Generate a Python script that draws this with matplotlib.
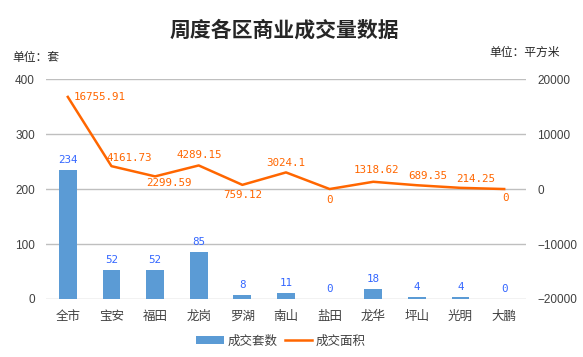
import matplotlib.pyplot as plt
import numpy as np

plt.rcParams['font.family'] = ['Noto Sans CJK SC', 'DejaVu Sans']

districts = ["全市", "宝安", "福田", "龙岗", "罗湖", "南山", "盐田", "龙华", "坪山", "光明", "大鹏"]
units = [234, 52, 52, 85, 8, 11, 0, 18, 4, 4, 0]
area = [16755.91, 4161.73, 2299.59, 4289.15, 759.12, 3024.1, 0, 1318.62, 689.35, 214.25, 0]
area_labels = ["16755.91", "4161.73", "2299.59", "4289.15", "759.12", "3024.1", "0",
               "1318.62", "689.35", "214.25", "0"]
# where each area label sits relative to its point, in pixels
label_pos = [(32, 0), (18, 8), (14, -7), (1, 10), (0, -10), (0, 9), (0, -11),
             (3, 12), (11, 9), (15, 9), (1, -9)]

bar_color = "#5b9bd5"
line_color = "#ff6600"
text_color = "#404040"
mono = ["DejaVu Sans Mono"]

fig = plt.figure(figsize=(5.83, 3.57), dpi=100)
ax = fig.add_axes([0.0789, 0.1625, 0.8233, 0.616])
ax2 = ax.twinx()

x = np.arange(len(districts))
ax.bar(x, units, width=0.41, color=bar_color, label="成交套数", zorder=2)
for xi, v in zip(x, units):
    ax.annotate(str(v), (xi, v), xytext=(0, 5), textcoords="offset pixels",
                ha="center", va="bottom", color="#3366ff", fontsize=7.8, family=mono)

ax2.plot(x, area, color=line_color, linewidth=1.8, label="成交面积", zorder=3)
for xi, v, s, (dx, dy) in zip(x, area, area_labels, label_pos):
    ax2.annotate(s, (xi, v), xytext=(dx, dy), textcoords="offset pixels",
                 ha="center", va="center", color=line_color, fontsize=7.8, family=mono)

ax.set_ylim(0, 400)
ax.set_yticks([0, 100, 200, 300, 400])
ax2.set_ylim(-20000, 20000)
ax2.set_yticks([-20000, -10000, 0, 10000, 20000])
ax.set_xlim(-0.5, len(districts) - 0.5)
ax.set_xticks(x)
ax.set_xticklabels(districts)

ax.grid(axis="y", color="#bfbfbf", linewidth=1, zorder=0)
ax.set_axisbelow(True)
for a in (ax, ax2):
    for sp in a.spines.values():
        sp.set_visible(False)
    a.tick_params(length=0, colors=text_color, labelsize=8.5, pad=8)
    for lab in a.get_yticklabels():
        lab.set_family(["Liberation Sans"])
ax.tick_params(axis="x", labelsize=9, pad=8)

fig.text(0.487, 0.916, "周度各区商业成交量数据", ha="center", va="center",
         fontsize=15, fontweight="bold", color="#262626")
fig.text(0.022, 0.838, "单位：套", ha="left", va="center", fontsize=8.5, color="#262626")
fig.text(0.961, 0.852, "单位：平方米", ha="right", va="center", fontsize=8.5, color="#262626")

h1, l1 = ax.get_legend_handles_labels()
h2, l2 = ax2.get_legend_handles_labels()
fig.legend(h1 + h2, l1 + l2, loc="center", bbox_to_anchor=(0.482, 0.045), ncol=2,
           frameon=False, fontsize=9, handlelength=2.2, columnspacing=0.6,
           handletextpad=0.3, labelcolor=text_color)

fig.savefig("out.png", dpi=100, facecolor="white")
